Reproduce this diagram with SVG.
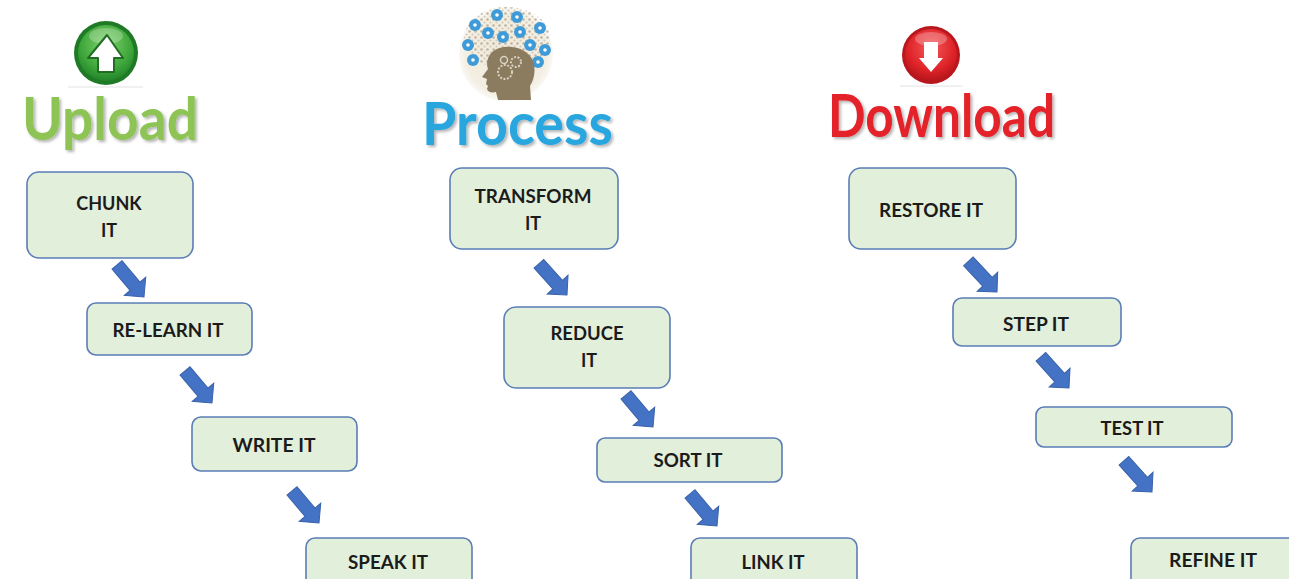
<svg xmlns="http://www.w3.org/2000/svg" width="1289" height="579" viewBox="0 0 1289 579">
<defs>
<style>
.box rect{fill:#e2efda;stroke:#5a7db5;stroke-width:1.6}
.box text{font-family:Lato,"Open Sans","Liberation Sans",sans-serif;font-weight:700;font-size:18px;fill:#1b1b1b;text-anchor:middle}
.arrow{fill:#4472c4;stroke:#3a62a8;stroke-width:1}
.head{font-family:Lato,"Open Sans","Liberation Sans",sans-serif;font-weight:700;font-size:60px}
.ic{fill:#3f9bd8}
.icd{fill:#ffffff}
</style>
<path id="arr" d="M0,0 L-14,-14 L-14,-6.5 L-42,-6.5 L-42,6.5 L-14,6.5 L-14,14 Z"/>
<radialGradient id="gG" cx="0.5" cy="0.35" r="0.65">
<stop offset="0" stop-color="#7fd36a"/><stop offset="0.7" stop-color="#3da53a"/><stop offset="1" stop-color="#22852a"/>
</radialGradient>
<radialGradient id="gR" cx="0.5" cy="0.35" r="0.65">
<stop offset="0" stop-color="#f5595b"/><stop offset="0.7" stop-color="#dd2227"/><stop offset="1" stop-color="#b4161c"/>
</radialGradient>
<radialGradient id="gB" cx="0.5" cy="0.5" r="0.5">
<stop offset="0" stop-color="#f0eadc"/><stop offset="0.85" stop-color="#f3eee2"/><stop offset="1" stop-color="#faf8f3"/>
</radialGradient>
<pattern id="dots" width="6" height="6" patternUnits="userSpaceOnUse">
<circle cx="1.5" cy="1.5" r="1.3" fill="#a99c86"/>
<circle cx="4.5" cy="4.5" r="1.1" fill="#c4b9a5"/>
</pattern>
<filter id="sh" x="-10%" y="-10%" width="130%" height="140%">
<feDropShadow dx="2" dy="2" stdDeviation="1.5" flood-color="#000" flood-opacity="0.3"/>
</filter>
</defs>
<rect width="1289" height="579" fill="#ffffff"/>

<g id="upload-header">
<line x1="68" y1="87" x2="143" y2="87" stroke="#e2e2e2" stroke-width="1"/>
<circle cx="106" cy="53" r="32" fill="#1f7a26"/>
<circle cx="106" cy="53" r="28" fill="url(#gG)"/>
<ellipse cx="106" cy="36" rx="17" ry="8" fill="#ffffff" opacity="0.25"/>
<path d="M107,35 L88,58 L98,58 L98,72 L114,72 L114,58 L123,58 Z" fill="#ffffff" stroke="#1f6e24" stroke-width="2" stroke-linejoin="round"/>
<text class="head" x="22" y="140" textLength="176" lengthAdjust="spacingAndGlyphs" fill="#8dc454" filter="url(#sh)">Upload</text>
</g>

<g id="process-header">
<circle cx="506" cy="54" r="47" fill="url(#gB)"/>
<ellipse cx="507" cy="38" rx="43" ry="31" fill="url(#dots)" opacity="0.7"/>
<g class="ic">
<circle cx="497" cy="15" r="6"/><circle cx="517" cy="17" r="6"/><circle cx="475" cy="25" r="6"/><circle cx="488" cy="33" r="6"/>
<circle cx="503" cy="37" r="6"/><circle cx="520" cy="32" r="6"/><circle cx="540" cy="28" r="6"/><circle cx="468" cy="45" r="6"/>
<circle cx="530" cy="45" r="6"/><circle cx="545" cy="50" r="6"/><circle cx="473" cy="60" r="6"/><circle cx="538" cy="62" r="6"/>
</g>
<g class="icd">
<circle cx="497" cy="15" r="1.8"/><circle cx="517" cy="17" r="1.8"/><circle cx="475" cy="25" r="1.8"/><circle cx="488" cy="33" r="1.8"/>
<circle cx="503" cy="37" r="1.8"/><circle cx="520" cy="32" r="1.8"/><circle cx="540" cy="28" r="1.8"/><circle cx="468" cy="45" r="1.8"/>
<circle cx="530" cy="45" r="1.8"/><circle cx="545" cy="50" r="1.8"/><circle cx="473" cy="60" r="1.8"/><circle cx="538" cy="62" r="1.8"/>
</g>
<path d="M531,100 L530,86 C536,77 537,61 527,53 C517,45 500,45 492,52 C487,57 486,64 488,69 L482,77 L487,79 L486,84 L488,86 L487,89 C488,92 491,93 496,92 L498,100 Z" fill="#8b7b5f"/>
<circle cx="505" cy="72" r="7" fill="none" stroke="#d8d2c4" stroke-width="2" stroke-dasharray="2 1.5"/>
<circle cx="516" cy="62" r="5" fill="none" stroke="#d8d2c4" stroke-width="2" stroke-dasharray="2 1.5"/>
<circle cx="504" cy="60" r="3.5" fill="none" stroke="#d8d2c4" stroke-width="1.5"/>
<text class="head" x="422" y="145" textLength="191" lengthAdjust="spacingAndGlyphs" fill="#2aa6df" filter="url(#sh)">Process</text>
</g>

<g id="download-header">
<line x1="900" y1="86" x2="963" y2="86" stroke="#e2e2e2" stroke-width="1"/>
<circle cx="931" cy="55" r="29" fill="#b8171d"/>
<circle cx="931" cy="55" r="26" fill="url(#gR)"/>
<ellipse cx="931" cy="39" rx="16" ry="7" fill="#ffffff" opacity="0.25"/>
<path d="M924,42 L938,42 L938,58 L943,58 L931,72 L919,58 L924,58 Z" fill="#ffffff"/>
<text class="head" x="828" y="137" textLength="227" lengthAdjust="spacingAndGlyphs" fill="#e4222a" filter="url(#sh)">Download</text>
</g>

<g id="chunk" class="box"><rect x="27" y="172" width="166" height="86" rx="12"/><text x="109" y="210">CHUNK</text><text x="109" y="237">IT</text></g>
<g id="relearn" class="box"><rect x="87" y="303" width="165" height="52" rx="9"/><text x="168" y="337" textLength="111" lengthAdjust="spacingAndGlyphs">RE-LEARN IT</text></g>
<g id="write" class="box"><rect x="192" y="417" width="165" height="54" rx="9"/><text x="274" y="452" textLength="83" lengthAdjust="spacingAndGlyphs">WRITE IT</text></g>
<g id="speak" class="box"><rect x="306" y="538" width="166" height="60" rx="9"/><text x="388" y="569" textLength="80" lengthAdjust="spacingAndGlyphs">SPEAK IT</text></g>

<g id="transform" class="box"><rect x="450" y="168" width="168" height="81" rx="12"/><text x="533" y="203" textLength="117" lengthAdjust="spacingAndGlyphs">TRANSFORM</text><text x="533" y="230">IT</text></g>
<g id="reduce" class="box"><rect x="504" y="307" width="166" height="81" rx="12"/><text x="587" y="340" textLength="73" lengthAdjust="spacingAndGlyphs">REDUCE</text><text x="589" y="367">IT</text></g>
<g id="sort" class="box"><rect x="597" y="438" width="185" height="44" rx="8"/><text x="688" y="467" textLength="69" lengthAdjust="spacingAndGlyphs">SORT IT</text></g>
<g id="link" class="box"><rect x="691" y="538" width="166" height="60" rx="9"/><text x="773" y="569" textLength="63" lengthAdjust="spacingAndGlyphs">LINK IT</text></g>

<g id="restore" class="box"><rect x="849" y="168" width="167" height="81" rx="12"/><text x="931" y="217" textLength="104" lengthAdjust="spacingAndGlyphs">RESTORE IT</text></g>
<g id="step" class="box"><rect x="953" y="298" width="168" height="48" rx="9"/><text x="1036" y="331" textLength="66" lengthAdjust="spacingAndGlyphs">STEP IT</text></g>
<g id="test" class="box"><rect x="1036" y="407" width="196" height="40" rx="8"/><text x="1132" y="435" textLength="63" lengthAdjust="spacingAndGlyphs">TEST IT</text></g>
<g id="refine" class="box"><rect x="1131" y="538" width="170" height="60" rx="9"/><text x="1213" y="567" textLength="88" lengthAdjust="spacingAndGlyphs">REFINE IT</text></g>

<g id="connectors">
<use href="#arr" class="arrow" transform="translate(144,297) rotate(50)"/>
<use href="#arr" class="arrow" transform="translate(212,403) rotate(50)"/>
<use href="#arr" class="arrow" transform="translate(319,523) rotate(50)"/>
<use href="#arr" class="arrow" transform="translate(567,295) rotate(48)"/>
<use href="#arr" class="arrow" transform="translate(653,427) rotate(50)"/>
<use href="#arr" class="arrow" transform="translate(717,526) rotate(50)"/>
<use href="#arr" class="arrow" transform="translate(997,292) rotate(47)"/>
<use href="#arr" class="arrow" transform="translate(1069,388) rotate(48)"/>
<use href="#arr" class="arrow" transform="translate(1152,492) rotate(48)"/>
</g>
</svg>
